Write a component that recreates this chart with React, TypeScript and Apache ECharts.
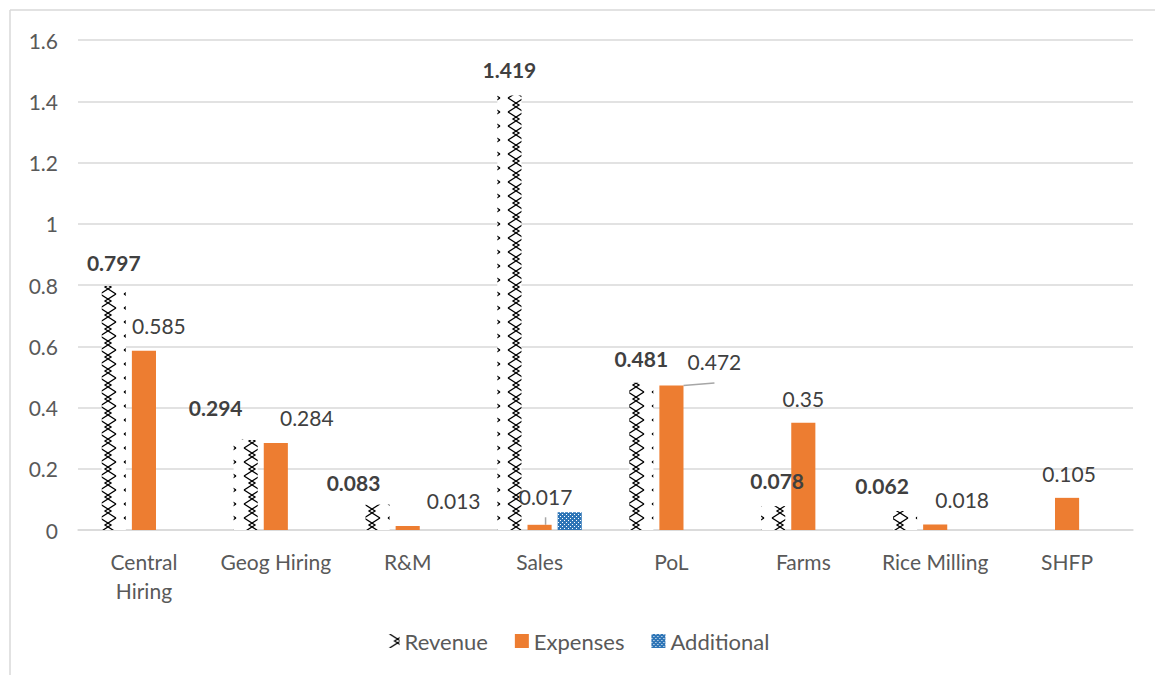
import React, { useEffect, useRef } from "react";
import * as echarts from "echarts";

const categories = ["Central\nHiring", "Geog Hiring", "R&M", "Sales", "PoL", "Farms", "Rice Milling", "SHFP"];
const revenue: (number | null)[] = [0.797, 0.294, 0.083, 1.419, 0.481, 0.078, 0.062, null];
const expenses: (number | null)[] = [0.585, 0.284, 0.013, 0.017, 0.472, 0.35, 0.018, 0.105];
const additional: (number | null)[] = [null, null, null, 0.058, null, null, null, null];
const seriesNames = ["Revenue", "Expenses", "Additional"];

// label styling (offsets from default "top" position) and leader-line flags
const revenueLabelOffsets: [number, number][] = [[0, -8], [-30, -17], [-24, -7], [0, -10], [0, -9], [4, -10], [-23, -10], [0, 0]];
const revenueLabelLines = [false, true, false, false, false, false, false, false];
const expenseLabelOffsets: [number, number][] = [[15, -10], [31, -10], [46, -10], [6, -13], [43, -8], [0, -9], [27, -9], [2, -9]];
const expenseLabelLines = [false, false, false, true, true, false, false, false];

const FONT = "Lato, 'Open Sans', sans-serif";
const TEXT = "#404040";
const AXIS_TEXT = "#595959";
const ORANGE = "#ed7d31";
const BLUE = "#2e75b6";

function makeZigzag(): HTMLCanvasElement {
  const c = document.createElement("canvas");
  c.width = 24;
  c.height = 14;
  const ctx = c.getContext("2d")!;
  ctx.fillStyle = "#ffffff";
  ctx.fillRect(0, 0, 24, 14);
  ctx.strokeStyle = "#000000";
  ctx.lineWidth = 1.3;
  ctx.beginPath();
  ctx.moveTo(4, 0);
  ctx.lineTo(15, 7);
  ctx.lineTo(4, 14);
  ctx.moveTo(20, 0);
  ctx.lineTo(9, 7);
  ctx.lineTo(20, 14);
  ctx.stroke();
  return c;
}

function makeDots(): HTMLCanvasElement {
  const c = document.createElement("canvas");
  c.width = 4;
  c.height = 4;
  const ctx = c.getContext("2d")!;
  ctx.fillStyle = BLUE;
  ctx.fillRect(0, 0, 4, 4);
  ctx.fillStyle = "#ffffff";
  ctx.fillRect(0, 0, 1, 1);
  ctx.fillRect(2, 2, 1, 1);
  return c;
}

export default function App() {
  const ref = useRef<HTMLDivElement>(null);
  useEffect(() => {
    if (!ref.current) return;
    const chart = echarts.init(ref.current, undefined, { renderer: "svg" });
    const zig = makeZigzag();
    const dots = makeDots();

    const revData = revenue.map((v, i) => ({
      value: v,
      label: { offset: revenueLabelOffsets[i] },
      labelLine: { show: revenueLabelLines[i] },
    }));
    const expData = expenses.map((v, i) => ({
      value: v,
      label: { offset: expenseLabelOffsets[i] },
      labelLine: { show: expenseLabelLines[i] },
    }));

    const option: any = {
      animation: false,
      backgroundColor: "#ffffff",
      textStyle: { fontFamily: FONT },
      grid: { left: 78, right: 22, top: 40, bottom: 145, containLabel: false },
      legend: {
        bottom: 18,
        left: "center",
        itemWidth: 14,
        itemHeight: 14,
        itemGap: 27,
        icon: "rect",
        textStyle: { fontFamily: FONT, fontSize: 22, color: AXIS_TEXT },
        data: seriesNames,
      },
      xAxis: {
        type: "category",
        data: categories,
        axisLine: { lineStyle: { color: "#d9d9d9", width: 1.5 } },
        axisTick: { show: false },
        axisLabel: { fontFamily: FONT, fontSize: 21, color: AXIS_TEXT, margin: 17, lineHeight: 29, interval: 0 },
      },
      yAxis: {
        type: "value",
        min: 0,
        max: 1.6,
        interval: 0.2,
        axisLine: { show: false },
        axisTick: { show: false },
        splitLine: { lineStyle: { color: "#d9d9d9", width: 1.5 } },
        axisLabel: { fontFamily: FONT, fontSize: 21, color: AXIS_TEXT, margin: 20 },
      },
      graphic: [
        { type: "line", shape: { x1: 10, y1: 10, x2: 1155, y2: 10 }, style: { stroke: "#d9d9d9", lineWidth: 1.5 } },
        { type: "line", shape: { x1: 10, y1: 10, x2: 10, y2: 675 }, style: { stroke: "#d9d9d9", lineWidth: 1.5 } },
      ],
      series: [
        {
          name: seriesNames[0],
          type: "bar",
          data: revData,
          barCategoryGap: "36%",
          barGap: "25%",
          itemStyle: { color: { image: zig, repeat: "repeat" } },
          label: {
            show: true,
            position: "top",
            distance: 5,
            fontFamily: FONT,
            fontSize: 21,
            fontWeight: "bold",
            color: TEXT,
          },
          labelLine: { lineStyle: { color: "#a6a6a6", width: 1.5 } },
        },
        {
          name: seriesNames[1],
          type: "bar",
          data: expData,
          barCategoryGap: "36%",
          barGap: "25%",
          itemStyle: { color: ORANGE },
          label: {
            show: true,
            position: "top",
            distance: 5,
            fontFamily: FONT,
            fontSize: 21,
            color: TEXT,
          },
          labelLine: { lineStyle: { color: "#a6a6a6", width: 1.5 } },
        },
        {
          name: seriesNames[2],
          type: "bar",
          data: additional,
          barCategoryGap: "36%",
          barGap: "25%",
          itemStyle: { color: { image: dots, repeat: "repeat" } },
          label: { show: false },
        },
      ],
    };
    chart.setOption(option);
    return () => chart.dispose();
  }, []);
  return (
    <div
      ref={ref}
      style={{ position: "absolute", left: 0, top: 0, width: 1155, height: 675, background: "#fff" }}
    />
  );
}
